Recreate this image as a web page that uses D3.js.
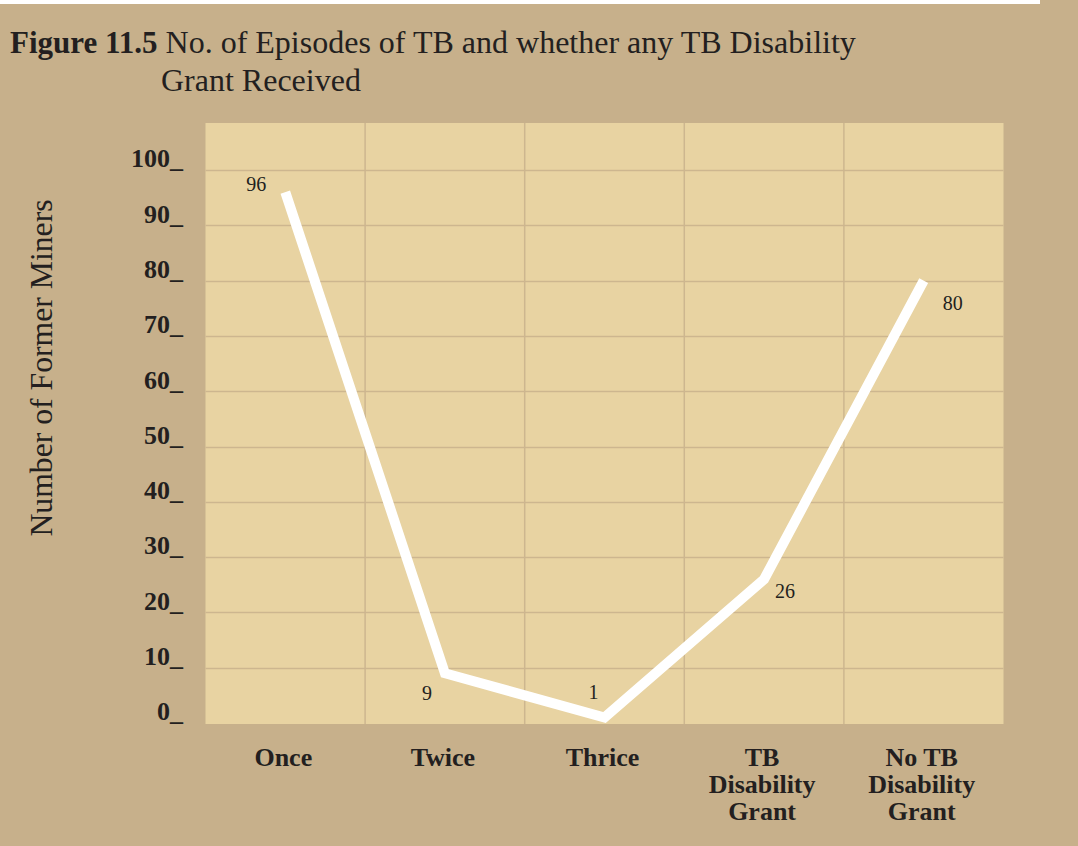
<!DOCTYPE html>
<html>
<head>
<meta charset="utf-8">
<script src="https://cdn.jsdelivr.net/npm/d3@7"></script>
<style>
  html, body { margin: 0; padding: 0; background: #c7b08b; }
  svg { display: block; }
  text { font-family: "Liberation Serif", "Times New Roman", serif; fill: #231f20; }
</style>
</head>
<body>
<svg id="chart" width="1078" height="846"></svg>
<script>
// Episodes of TB and disability grant status among former miners
const categories = ["Once", "Twice", "Thrice", "TB Disability Grant", "No TB Disability Grant"];
const categoryLines = [["Once"], ["Twice"], ["Thrice"], ["TB", "Disability", "Grant"], ["No TB", "Disability", "Grant"]];
const values = [96, 9, 1, 26, 80];
const yTicks = [0, 10, 20, 30, 40, 50, 60, 70, 80, 90, 100];
const yTickLabels = yTicks.map(d => d + "_");
// value label offsets from each point (dx, dy)
const labelOffsets = [[-29, -1], [-18, 27], [-11, -18], [21, 19], [29, 29]];

const svg = d3.select("#chart");
const W = 1078, H = 846;

svg.append("rect").attr("width", W).attr("height", H).attr("fill", "#c7b08b");
svg.append("rect").attr("x", 0).attr("y", 0).attr("width", 1040).attr("height", 4).attr("fill", "#ffffff");

const plot = { left: 205.5, right: 1003.5, top: 123, bottom: 724 };

const x = d3.scaleBand().domain(categories).range([plot.left, plot.right]).padding(0);
const y = d3.scaleLinear().domain([0, 100]).range([723, 170]);

// plot background
svg.append("rect")
  .attr("x", plot.left).attr("y", plot.top)
  .attr("width", plot.right - plot.left).attr("height", plot.bottom - plot.top)
  .attr("fill", "#e8d3a2");

const gridColor = "#cdb68f";
// horizontal grid lines
svg.append("g").selectAll("line")
  .data(yTicks.filter(d => d > 0))
  .join("line")
  .attr("x1", plot.left).attr("x2", plot.right)
  .attr("y1", d => Math.round(y(d)) + 0.5).attr("y2", d => Math.round(y(d)) + 0.5)
  .attr("stroke", gridColor).attr("stroke-width", 1.5);

// vertical grid lines at category boundaries
svg.append("g").selectAll("line")
  .data(categories.slice(1))
  .join("line")
  .attr("x1", d => x(d)).attr("x2", d => x(d))
  .attr("y1", plot.top).attr("y2", plot.bottom)
  .attr("stroke", gridColor).attr("stroke-width", 1.5);

// y axis tick labels
const yAxis = d3.axisLeft(y).tickValues(yTicks).tickSize(0).tickPadding(0)
  .tickFormat((d, i) => yTickLabels[i]);
const yAxisG = svg.append("g").attr("transform", "translate(183,0)").call(yAxis);
yAxisG.select(".domain").remove();
yAxisG.selectAll("text")
  .attr("dy", "-0.12em")
  .attr("font-size", "26px")
  .attr("font-weight", "bold")
  .attr("font-family", "'Liberation Serif', serif")
  .attr("fill", "#231f20")
  .attr("text-anchor", "end");

// x axis category labels
const xAxisG = svg.append("g");
categories.forEach((c, i) => {
  const t = xAxisG.append("text")
    .attr("x", x(c) + x.bandwidth() / 2 - 2)
    .attr("y", 766)
    .attr("text-anchor", "middle")
    .attr("font-size", "26px")
    .attr("font-weight", "bold");
  categoryLines[i].forEach((ln, j) => {
    t.append("tspan")
      .attr("x", x(c) + x.bandwidth() / 2 - 2)
      .attr("dy", j === 0 ? 0 : 27)
      .text(ln);
  });
});

// the data line
const pts = categories.map((c, i) => [x(c) + x.bandwidth() / 2, y(values[i])]);
svg.append("path")
  .datum(pts)
  .attr("d", d3.line())
  .attr("fill", "none")
  .attr("stroke", "#ffffff")
  .attr("stroke-width", 10)
  .attr("stroke-linejoin", "miter")
  .attr("stroke-linecap", "butt");

// value labels
svg.append("g").selectAll("text")
  .data(values)
  .join("text")
  .attr("x", (d, i) => pts[i][0] + labelOffsets[i][0])
  .attr("y", (d, i) => pts[i][1] + labelOffsets[i][1])
  .attr("text-anchor", "middle")
  .attr("font-size", "20px")
  .text(d => d);

// y axis title
svg.append("text")
  .attr("transform", "translate(52,368) rotate(-90)")
  .attr("text-anchor", "middle")
  .attr("font-size", "31.7px")
  .text("Number of Former Miners");

// figure title
const title = svg.append("text").attr("x", 10).attr("y", 53);
title.append("tspan").attr("font-weight", "bold").attr("font-size", "31px").text("Figure 11.5");
title.append("tspan").attr("font-size", "32px").text(" No. of Episodes of TB and whether any TB Disability");
svg.append("text").attr("x", 161).attr("y", 91).attr("font-size", "32px").text("Grant Received");
</script>
</body>
</html>
